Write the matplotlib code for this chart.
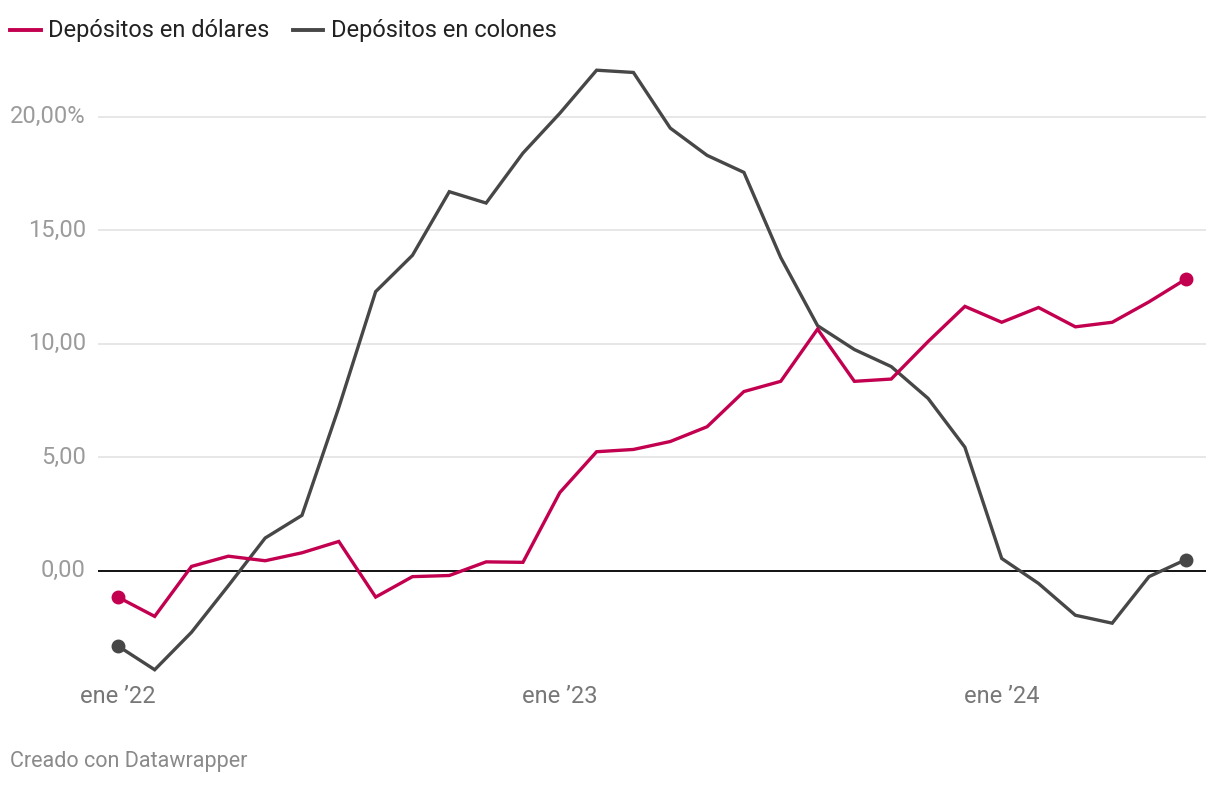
import matplotlib.pyplot as plt
import matplotlib.lines as mlines

plt.rcParams['font.family'] = ['Roboto', 'DejaVu Sans']

# meses desde ene 2022 hasta jun 2024
meses = list(range(30))
dolares = [-1.15, -2.0, 0.2, 0.65, 0.45, 0.8, 1.3, -1.15, -0.25, -0.2,
           0.4, 0.38, 3.45, 5.25, 5.35, 5.7, 6.35, 7.9, 8.35, 10.65,
           8.35, 8.45, 10.1, 11.65, 10.95, 11.6, 10.75, 10.95, 11.85, 12.85]
colones = [-3.3, -4.35, -2.7, -0.65, 1.45, 2.45, 7.2, 12.3, 13.9, 16.7,
           16.2, 18.4, 20.15, 22.05, 21.95, 19.5, 18.3, 17.55, 13.8, 10.8,
           9.75, 9.0, 7.6, 5.45, 0.55, -0.55, -1.95, -2.3, -0.25, 0.5]
xticks = [0, 12, 24]
xlabels = ["ene \u201922", "ene \u201923", "ene \u201924"]
yticks = [0, 5, 10, 15, 20]
ylabels = ["0,00", "5,00", "10,00", "15,00", "20,00%"]

ROSA = '#c2004f'
GRIS = '#474747'

fig = plt.figure(figsize=(12.2, 7.86), dpi=100)
ax = fig.add_axes([0.0803, 0.1349, 0.908, 0.7888])

for v in yticks:
    if v == 0:
        ax.axhline(0, color='#111111', lw=1.4, zorder=2)
    else:
        ax.axhline(v, color='#e3e3e3', lw=1.2, zorder=1)

ax.plot(meses, colones, color=GRIS, lw=2.4, zorder=3, solid_joinstyle='miter')
ax.plot(meses, dolares, color=ROSA, lw=2.4, zorder=4, solid_joinstyle='miter')
for serie, c in [(colones, GRIS), (dolares, ROSA)]:
    ax.plot([meses[0], meses[-1]], [serie[0], serie[-1]], 'o', color=c,
            ms=9, zorder=5)

ax.set_xlim(-0.54, 29.54)
ax.set_ylim(-4.8, 22.5)
for s in ax.spines.values():
    s.set_visible(False)
ax.set_xticks([])
ax.set_yticks([])

for v, lab in zip(yticks, ylabels):
    ax.annotate(lab, xy=(0, v), xycoords=('axes fraction', 'data'),
                xytext=(-12, 0), textcoords='offset pixels',
                ha='right', va='center', fontsize=17, color='#9b9b9b')
for t, lab in zip(xticks, xlabels):
    ax.annotate(lab, xy=(t, 0), xycoords=('data', 'axes fraction'),
                xytext=(0, -17), textcoords='offset pixels',
                ha='center', va='center', fontsize=17, color='#777777')

# leyenda
fig.add_artist(mlines.Line2D([10/1220, 41/1220], [1-30/786, 1-30/786],
                             color=ROSA, lw=2.8))
fig.text(48/1220, 1-30/786, "Depósitos en dólares", fontsize=17,
         va='center', ha='left', color='#222222')
fig.add_artist(mlines.Line2D([293/1220, 323/1220], [1-30/786, 1-30/786],
                             color=GRIS, lw=2.8))
fig.text(331/1220, 1-30/786, "Depósitos en colones", fontsize=17,
         va='center', ha='left', color='#222222')

fig.text(10/1220, 1-762/786, "Creado con Datawrapper", fontsize=15.5,
         va='center', ha='left', color='#8a8a8a')

fig.savefig("out.png", dpi=100)
